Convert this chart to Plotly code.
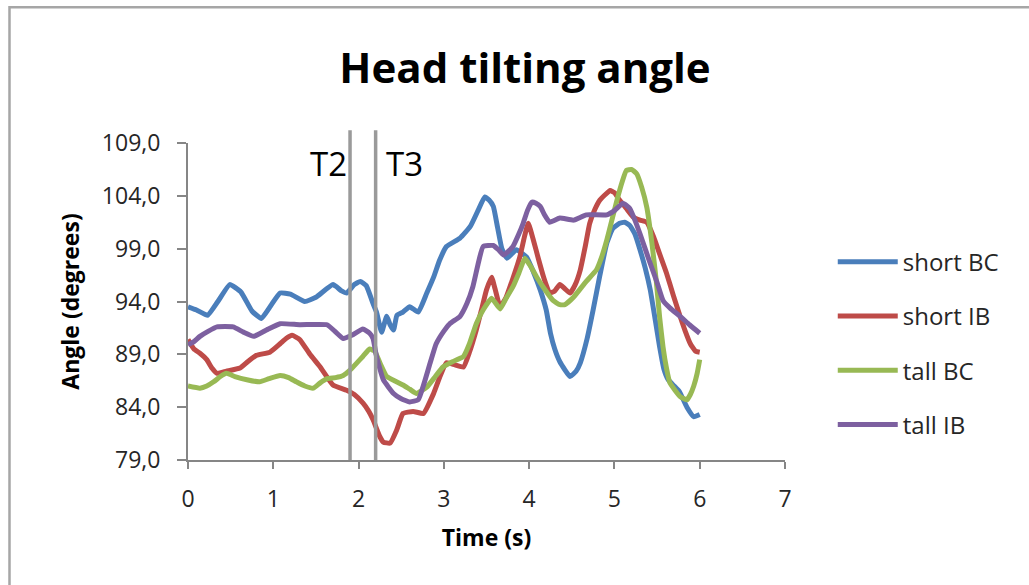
import plotly.graph_objects as go

# Head tilting angle over time for four subject groups
t_short_bc = [0.00, 0.10, 0.23, 0.35, 0.49, 0.62, 0.75, 0.86, 0.97, 1.08, 1.20, 1.37, 1.50, 1.70, 1.80,
              1.86, 1.95, 2.02, 2.09, 2.17, 2.21, 2.27, 2.33, 2.37, 2.41, 2.45, 2.52, 2.60, 2.70, 2.80,
              2.88, 2.95, 3.03, 3.19, 3.31, 3.40, 3.48, 3.53, 3.58, 3.63, 3.68, 3.74, 3.85, 3.97, 4.05,
              4.13, 4.20, 4.25, 4.30, 4.36, 4.48, 4.55, 4.60, 4.68, 4.75, 4.83, 4.91, 4.98, 5.06, 5.12,
              5.18, 5.24, 5.30, 5.36, 5.42, 5.48, 5.53, 5.58, 5.63, 5.70, 5.76, 5.85, 5.93, 6.00]
short_bc = [93.5, 93.2, 92.7, 94.0, 95.6, 94.9, 93.1, 92.4, 93.6, 94.8, 94.7, 94.0, 94.4, 95.6, 95.0,
            94.8, 95.6, 95.9, 95.5, 93.8, 93.0, 91.1, 92.6, 91.8, 91.3, 92.7, 93.0, 93.5, 93.0, 94.8,
            96.3, 97.9, 99.2, 100.0, 101.1, 102.6, 103.9, 103.6, 103.0, 101.0, 99.0, 98.1, 98.9, 98.2, 96.8,
            95.1, 93.2, 91.0, 89.5, 88.3, 86.9, 87.4, 88.2, 90.5, 93.2, 96.5, 99.5, 100.9, 101.4, 101.5,
            101.2, 100.4, 98.9, 97.2, 95.1, 92.2, 89.7, 87.6, 86.6, 86.0, 85.5, 84.0, 83.1, 83.3]

t_short_ib = [0.00, 0.07, 0.14, 0.22, 0.28, 0.34, 0.45, 0.61, 0.70, 0.80, 0.96, 1.08, 1.15, 1.22, 1.31,
              1.43, 1.55, 1.70, 1.86, 1.95, 2.05, 2.12, 2.17, 2.25, 2.29, 2.37, 2.45, 2.52, 2.64, 2.76,
              2.88, 2.95, 3.03, 3.13, 3.23, 3.30, 3.38, 3.45, 3.50, 3.56, 3.60, 3.66, 3.73, 3.81, 3.89,
              3.95, 3.99, 4.05, 4.11, 4.17, 4.24, 4.30, 4.36, 4.42, 4.48, 4.54, 4.60, 4.66, 4.71, 4.77,
              4.83, 4.89, 4.95, 5.00, 5.06, 5.14, 5.22, 5.30, 5.38, 5.46, 5.53, 5.61, 5.69, 5.77, 5.83,
              5.89, 5.95, 6.00]
short_ib = [90.4, 89.5, 89.1, 88.5, 87.7, 87.2, 87.4, 87.7, 88.3, 88.9, 89.2, 90.0, 90.5, 90.8, 90.4,
            89.0, 87.8, 86.1, 85.6, 85.2, 84.4, 83.6, 82.8, 81.2, 80.7, 80.6, 81.9, 83.4, 83.6, 83.4,
            85.3, 86.8, 88.2, 88.0, 87.8, 89.2, 91.3, 93.5, 95.1, 96.3, 95.2, 93.5, 94.4, 96.2, 98.2,
            100.3, 101.4, 99.8, 98.0, 96.3, 94.8, 95.0, 95.6, 95.2, 94.8, 95.6, 97.0, 99.3, 101.4, 102.7,
            103.6, 104.1, 104.5, 104.3, 103.6, 102.8, 102.0, 101.7, 101.5, 100.1, 98.5, 96.7, 94.6, 92.6, 91.2,
            90.0, 89.3, 89.2]

t_tall_bc = [0.00, 0.14, 0.22, 0.30, 0.38, 0.45, 0.55, 0.69, 0.84, 0.95, 1.08, 1.18, 1.27, 1.37, 1.47,
             1.55, 1.63, 1.73, 1.82, 1.90, 1.97, 2.05, 2.13, 2.19, 2.25, 2.33, 2.42, 2.52, 2.60, 2.68,
             2.80, 2.90, 2.99, 3.10, 3.23, 3.30, 3.38, 3.46, 3.56, 3.66, 3.73, 3.81, 3.88, 3.95, 4.02,
             4.09, 4.17, 4.28, 4.36, 4.42, 4.52, 4.60, 4.67, 4.79, 4.85, 4.91, 4.97, 5.03, 5.09, 5.14,
             5.20, 5.26, 5.32, 5.38, 5.44, 5.49, 5.53, 5.57, 5.61, 5.65, 5.71, 5.77, 5.85, 5.89, 5.93,
             5.97, 6.00]
tall_bc = [86.0, 85.8, 86.0, 86.4, 86.9, 87.2, 86.9, 86.6, 86.4, 86.7, 87.0, 86.8, 86.4, 86.0, 85.8,
           86.3, 86.7, 86.8, 87.0, 87.5, 88.1, 88.8, 89.5, 89.3, 88.2, 86.9, 86.5, 86.1, 85.7, 85.3,
           85.9, 86.9, 87.8, 88.3, 88.8, 90.0, 91.9, 93.2, 94.3, 93.3, 94.3, 95.4, 96.7, 98.1, 97.3,
           96.3, 95.3, 94.1, 93.7, 93.7, 94.4, 95.2, 95.9, 97.0, 98.2, 99.8, 101.7, 103.6, 105.3, 106.4,
           106.5, 106.1, 104.8, 102.9, 99.5, 96.0, 92.5, 89.7, 87.7, 86.3, 85.6, 85.0, 84.7, 85.2, 86.0,
           87.2, 88.5]

t_tall_ib = [0.00, 0.07, 0.14, 0.24, 0.34, 0.53, 0.65, 0.77, 0.92, 1.08, 1.31, 1.63, 1.72, 1.82, 1.92,
             2.05, 2.13, 2.17, 2.21, 2.29, 2.41, 2.50, 2.60, 2.70, 2.77, 2.84, 2.91, 3.00, 3.07, 3.19,
             3.27, 3.34, 3.40, 3.46, 3.58, 3.64, 3.70, 3.81, 3.88, 3.93, 3.98, 4.03, 4.08, 4.13, 4.18,
             4.24, 4.36, 4.52, 4.67, 4.91, 5.00, 5.10, 5.18, 5.24, 5.30, 5.36, 5.42, 5.50, 5.57, 5.65,
             5.77, 5.88, 6.00]
tall_ib = [89.9, 90.2, 90.7, 91.2, 91.6, 91.6, 91.1, 90.7, 91.3, 91.9, 91.8, 91.8, 91.2, 90.5, 90.8,
           91.4, 91.0, 90.5, 88.8, 86.6, 85.3, 84.8, 84.5, 84.7, 86.3, 88.2, 90.0, 91.2, 91.9, 92.6,
           93.8, 95.4, 97.5, 99.2, 99.3, 98.9, 98.4, 99.2, 100.4, 101.4, 102.6, 103.4, 103.3, 103.0, 102.2,
           101.5, 101.9, 101.7, 102.2, 102.2, 102.6, 103.3, 102.8, 101.7, 100.4, 99.0, 97.6, 95.8, 94.1, 93.4,
           92.6, 91.8, 91.0]

series_names = ["short BC", "short IB", "tall BC", "tall IB"]
series_times = [t_short_bc, t_short_ib, t_tall_bc, t_tall_ib]
series_values = [short_bc, short_ib, tall_bc, tall_ib]
series_colors = ["#4A7EBB", "#BE4B48", "#98B954", "#7D60A0"]

# Phase markers
marker_labels = ["T2", "T3"]
marker_times = [1.9, 2.2]

y_ticks = [79, 84, 89, 94, 99, 104, 109]
x_ticks = [0, 1, 2, 3, 4, 5, 6, 7]

FONT = "Open Sans"
AXIS_GREY = "#868686"
TICK_TEXT = "#262626"

fig = go.Figure()
for name, t, v, c in zip(series_names, series_times, series_values, series_colors):
    fig.add_trace(go.Scatter(
        x=t, y=v, name=name, mode="lines",
        line=dict(color=c, width=5, shape="spline", smoothing=0.4),
        legendgroup=name,
    ))

shapes = []
annotations = []
for lab, tm in zip(marker_labels, marker_times):
    shapes.append(dict(type="line", xref="x", yref="paper", x0=tm, x1=tm, y0=0, y1=1.04,
                       line=dict(color="#9A9A9A", width=3.5), layer="above"))
annotations.append(dict(text=marker_labels[0], x=marker_times[0], y=0.935, xref="x", yref="paper",
                        xanchor="right", yanchor="middle", showarrow=False, xshift=-1,
                        font=dict(family=FONT, size=33, color="#000000")))
annotations.append(dict(text=marker_labels[1], x=marker_times[1], y=0.935, xref="x", yref="paper",
                        xanchor="left", yanchor="middle", showarrow=False, xshift=8,
                        font=dict(family=FONT, size=33, color="#000000")))

# Outer chart frame
shapes.append(dict(type="rect", xref="paper", yref="paper", x0=-0.299, x1=1.5, y0=-0.6, y1=1.428,
                   line=dict(color="#A6A6A6", width=2.5), layer="below"))

fig.update_layout(
    width=1029, height=585,
    margin=dict(l=188, r=244, t=143, b=125),
    paper_bgcolor="white", plot_bgcolor="white",
    separators=",.",
    title=dict(text="<b>Head tilting angle</b>", x=525 / 1029, xref="container", xanchor="center",
               y=1 - 68 / 585, yref="container", yanchor="middle",
               font=dict(family=FONT, size=42, color="#000000")),
    font=dict(family=FONT, size=23, color=TICK_TEXT),
    xaxis=dict(range=[0, 7], tickvals=x_ticks, showgrid=False, zeroline=False,
               showline=True, linecolor=AXIS_GREY, linewidth=2,
               ticks="outside", ticklen=7, tickwidth=2, tickcolor=AXIS_GREY,
               ticklabelstandoff=10,
               tickfont=dict(family=FONT, size=23, color=TICK_TEXT),
               title=dict(text="<b>Time (s)</b>", font=dict(family=FONT, size=23, color="#000000"),
                          standoff=17)),
    yaxis=dict(range=[79, 109], tickvals=y_ticks, tickformat=".1f", showgrid=False, zeroline=False,
               showline=True, linecolor=AXIS_GREY, linewidth=2,
               ticks="outside", ticklen=9, tickwidth=2, tickcolor=AXIS_GREY,
               ticklabelstandoff=12,
               tickfont=dict(family=FONT, size=23, color=TICK_TEXT),
               title=dict(text="<b>Angle (degrees)</b>", font=dict(family=FONT, size=23, color="#000000"),
                          standoff=16)),
    legend=dict(x=1.08, y=0.695, xanchor="left", yanchor="top", orientation="v",
                traceorder="grouped", tracegroupgap=20, itemwidth=60,
                font=dict(family=FONT, size=24, color=TICK_TEXT),
                bgcolor="rgba(0,0,0,0)"),
    shapes=shapes,
    annotations=annotations,
    showlegend=True,
)

fig.write_html("out.html")
